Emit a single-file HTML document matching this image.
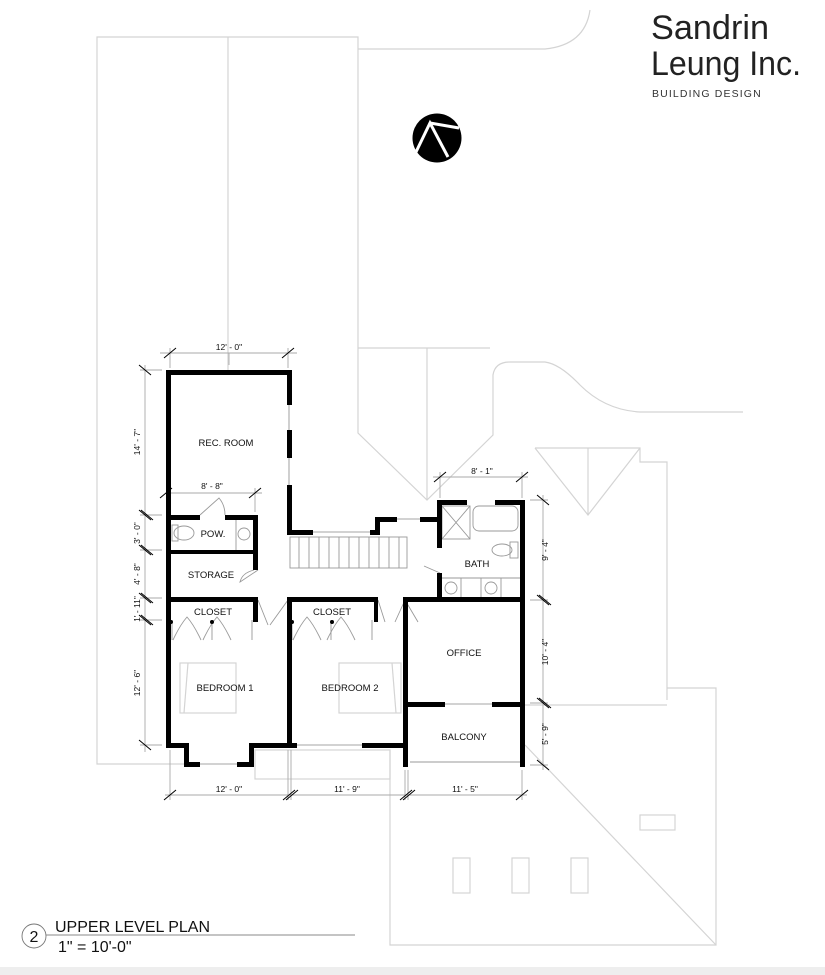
<!DOCTYPE html>
<html><head><meta charset="utf-8"><style>
html,body{margin:0;padding:0;background:#fff;}
svg{display:block;}
text{font-family:"Liberation Sans",Arial,sans-serif;}
</style></head><body>
<svg width="825" height="975" viewBox="0 0 825 975" xmlns="http://www.w3.org/2000/svg">
<rect x="0" y="0" width="825" height="975" fill="#fff"/>
<rect x="0" y="967" width="825" height="8" fill="#eeeeee"/>
<g fill="none" stroke="#d4d4d4" stroke-width="1.2">
<polyline points="185,764 97,764 97,37 358,37 358,433 427,500 493,435 493,380"/>
<line x1="228" y1="37" x2="228" y2="370"/>
<path d="M358,49 L545,49 Q585,45 590,10"/>
<polyline points="358,348 490,348"/>
<line x1="427" y1="348" x2="427" y2="500"/>
<path d="M493,380 L493,375 Q495,362 510,362 L545,362 Q560,364 580,385 Q605,410 640,412 L743,412"/>
<polyline points="535,448 640,448 640,462 667,462 667,700"/>
<polyline points="535,448 588,515 640,448"/>
<line x1="588" y1="448" x2="588" y2="515"/>
<line x1="520" y1="705" x2="667" y2="705"/>
<polyline points="667,688 716,688 716,945 390,945 390,750"/>
<line x1="525" y1="745" x2="716" y2="945"/>
<rect x="255" y="750" width="135" height="29"/>
<rect x="640" y="815" width="35" height="15"/>
<rect x="453" y="858" width="17" height="35"/>
<rect x="512" y="858" width="17" height="35"/>
<rect x="571" y="858" width="17" height="35"/>
<rect x="180" y="663" width="56" height="50"/>
<line x1="188" y1="663" x2="184" y2="713"/>
<rect x="339" y="663" width="62" height="50"/>
<line x1="392" y1="663" x2="396" y2="713"/>
</g>
<text x="651" y="39" font-size="34" fill="#222" textLength="118" lengthAdjust="spacingAndGlyphs">Sandrin</text>
<text x="651" y="75" font-size="34" fill="#222" textLength="150" lengthAdjust="spacingAndGlyphs">Leung Inc.</text>
<text x="652" y="97" font-size="10.5" fill="#333" letter-spacing="1.3" textLength="110">BUILDING DESIGN</text>
<circle cx="437" cy="138" r="24.5" fill="#000"/>
<polyline points="416,152 430,123 448,157" fill="none" stroke="#fff" stroke-width="3"/>
<line x1="430" y1="123" x2="459" y2="128" stroke="#fff" stroke-width="3"/>
<g stroke="#aaa" stroke-width="0.9" fill="none">
<line x1="160" y1="353" x2="297" y2="353"/>
<line x1="229" y1="353" x2="229" y2="365"/><line x1="170" y1="348" x2="170" y2="368"/><line x1="288" y1="348" x2="288" y2="368"/>
<line x1="166" y1="493" x2="262" y2="493"/><line x1="255" y1="488" x2="255" y2="512"/>
<line x1="433" y1="477" x2="528" y2="477"/><line x1="440" y1="472" x2="440" y2="498"/><line x1="522" y1="472" x2="522" y2="498"/>
<line x1="145" y1="365" x2="145" y2="752"/>
<line x1="140" y1="370" x2="162" y2="370"/><line x1="140" y1="515" x2="162" y2="515"/><line x1="140" y1="550" x2="162" y2="550"/><line x1="140" y1="598" x2="162" y2="598"/><line x1="140" y1="620" x2="162" y2="620"/><line x1="140" y1="745" x2="162" y2="745"/>
<line x1="543" y1="495" x2="543" y2="770"/>
<line x1="530" y1="500" x2="548" y2="500"/><line x1="530" y1="600" x2="548" y2="600"/><line x1="530" y1="703" x2="548" y2="703"/><line x1="530" y1="765" x2="548" y2="765"/>
<line x1="165" y1="795" x2="527" y2="795"/>
<line x1="170" y1="750" x2="170" y2="800"/><line x1="288" y1="750" x2="288" y2="800"/><line x1="291" y1="750" x2="291" y2="800"/><line x1="405" y1="770" x2="405" y2="800"/><line x1="408" y1="770" x2="408" y2="800"/><line x1="522" y1="770" x2="522" y2="800"/>
</g>
<g stroke="#000" stroke-width="1">
<line x1="164" y1="358" x2="176" y2="348"/><line x1="282" y1="358" x2="294" y2="348"/>
<line x1="160" y1="498" x2="172" y2="488"/><line x1="249" y1="498" x2="261" y2="488"/>
<line x1="434" y1="482" x2="446" y2="472"/><line x1="516" y1="482" x2="528" y2="472"/>
<line x1="139" y1="365" x2="151" y2="375"/><line x1="139" y1="740" x2="151" y2="750"/>
<line x1="139" y1="510" x2="151" y2="520"/><line x1="141" y1="510" x2="153" y2="520"/>
<line x1="139" y1="545" x2="151" y2="555"/><line x1="141" y1="545" x2="153" y2="555"/>
<line x1="139" y1="593" x2="151" y2="603"/><line x1="141" y1="593" x2="153" y2="603"/>
<line x1="139" y1="615" x2="151" y2="625"/><line x1="141" y1="615" x2="153" y2="625"/>
<line x1="537" y1="495" x2="549" y2="505"/>
<line x1="537" y1="595" x2="549" y2="605"/><line x1="539" y1="595" x2="551" y2="605"/>
<line x1="537" y1="698" x2="549" y2="708"/><line x1="539" y1="698" x2="551" y2="708"/>
<line x1="537" y1="760" x2="549" y2="770"/>
<line x1="164" y1="800" x2="176" y2="790"/>
<line x1="283" y1="800" x2="295" y2="790"/><line x1="286" y1="800" x2="298" y2="790"/>
<line x1="400" y1="800" x2="412" y2="790"/><line x1="403" y1="800" x2="415" y2="790"/>
<line x1="516" y1="800" x2="528" y2="790"/>
</g>
<g font-size="8.5" fill="#111" text-anchor="middle">
<text x="229" y="350">12' - 0"</text>
<text x="212" y="489">8' - 8"</text>
<text x="482" y="474">8' - 1"</text>
<text x="229" y="792">12' - 0"</text>
<text x="347" y="792">11' - 9"</text>
<text x="465" y="792">11' - 5"</text>
<text transform="translate(140,442) rotate(-90)">14' - 7"</text>
<text transform="translate(140,533) rotate(-90)">3' - 0"</text>
<text transform="translate(140,574) rotate(-90)">4' - 8"</text>
<text transform="translate(140,609) rotate(-90)">1' - 11"</text>
<text transform="translate(140,683) rotate(-90)">12' - 6"</text>
<text transform="translate(548,550) rotate(-90)">9' - 4"</text>
<text transform="translate(548,652) rotate(-90)">10' - 4"</text>
<text transform="translate(548,734) rotate(-90)">5' - 9"</text>
</g>
<g fill="none" stroke="#999" stroke-width="0.9">
<rect x="290" y="537" width="117" height="31"/>
<path d="M299,537v31M309,537v31M319,537v31M329,537v31M339,537v31M349,537v31M359,537v31M369,537v31M379,537v31M389,537v31M399,537v31"/>
<rect x="442" y="506" width="28" height="33"/><path d="M442,506 L470,539 M470,506 L442,539"/>
<rect x="473" y="506" width="45" height="25" rx="6"/>
<ellipse cx="502" cy="550" rx="10" ry="6"/><rect x="510" y="542" width="8" height="16"/>
<line x1="442" y1="578" x2="520" y2="578"/><line x1="461" y1="578" x2="461" y2="597"/><line x1="481" y1="578" x2="481" y2="597"/><line x1="501" y1="578" x2="501" y2="597"/>
<circle cx="451" cy="588" r="6"/><circle cx="491" cy="588" r="6"/>
<ellipse cx="184" cy="533" rx="10" ry="7"/><rect x="172" y="525" width="6" height="16"/>
<line x1="236" y1="520" x2="236" y2="550"/><circle cx="244" cy="534" r="6"/>
<path d="M200,515 L219,498 Q225,505 225,515"/>
<path d="M258,570 L240,582 Q242,573 254,570"/>
<path d="M258,600 L268,625 M288,600 L270,625 M378,600 L385,622 M405,600 L395,622 M405,600 L418,622 M440,573 L424,566"/>
<path d="M173,640 Q180,625 187,617 Q194,625 201,640 M203,640 Q210,625 217,617 Q224,625 231,640"/>
<path d="M293,640 Q300,625 307,617 Q314,625 321,640 M327,640 Q334,625 341,617 Q348,625 355,640"/>
<path d="M172,620v20M212,620v20M252,620v20M292,620v20M331,620v20M372,620v20"/>
<line x1="410" y1="762" x2="520" y2="762"/>
</g>
<g fill="#000">
<rect x="166" y="370" width="126" height="5"/>
<rect x="166" y="370" width="5" height="378"/>
<rect x="287" y="370" width="5" height="35"/><rect x="287" y="430" width="5" height="28"/><rect x="287" y="485" width="5" height="50"/>
<rect x="287" y="530" width="26" height="5"/><rect x="370" y="530" width="7" height="5"/>
<rect x="375" y="517" width="5" height="18"/>
<rect x="375" y="517" width="22" height="5"/><rect x="420" y="517" width="20" height="5"/>
<rect x="437" y="500" width="5" height="48"/><rect x="437" y="573" width="5" height="29"/>
<rect x="437" y="500" width="30" height="5"/><rect x="495" y="500" width="30" height="5"/>
<rect x="520" y="500" width="5" height="267"/>
<rect x="405" y="597" width="120" height="5"/>
<rect x="403" y="597" width="5" height="170"/>
<rect x="405" y="702" width="40" height="5"/><rect x="492" y="702" width="30" height="5"/>
<rect x="171" y="515" width="29" height="5"/><rect x="225" y="515" width="33" height="5"/>
<rect x="253" y="515" width="5" height="55"/>
<rect x="171" y="550" width="87" height="4"/>
<rect x="166" y="597" width="92" height="5"/>
<rect x="253" y="597" width="5" height="25"/>
<rect x="287" y="597" width="91" height="5"/>
<rect x="287" y="597" width="5" height="151"/>
<rect x="374" y="597" width="4" height="25"/>
<rect x="166" y="743" width="22" height="5"/>
<rect x="184" y="743" width="5" height="24"/>
<rect x="184" y="762" width="16" height="5"/><rect x="237" y="762" width="17" height="5"/>
<rect x="249" y="743" width="5" height="24"/>
<rect x="249" y="743" width="48" height="5"/><rect x="362" y="743" width="46" height="5"/>
<circle cx="171" cy="622" r="2"/><circle cx="212" cy="622" r="2"/><circle cx="292" cy="622" r="2"/><circle cx="332" cy="622" r="2"/>
</g>
<g fill="none" stroke="#888" stroke-width="0.8">
<line x1="200" y1="764" x2="237" y2="764"/><line x1="297" y1="745" x2="362" y2="745"/>
<line x1="445" y1="704" x2="492" y2="704"/><line x1="397" y1="519" x2="420" y2="519"/><line x1="313" y1="532" x2="370" y2="532"/>
<line x1="289" y1="405" x2="289" y2="430"/><line x1="289" y1="458" x2="289" y2="485"/>
</g>
<g font-size="9.5" fill="#111" text-anchor="middle">
<text x="226" y="446">REC. ROOM</text>
<text x="213" y="537">POW.</text>
<text x="211" y="578">STORAGE</text>
<text x="213" y="615">CLOSET</text>
<text x="332" y="615">CLOSET</text>
<text x="477" y="567">BATH</text>
<text x="464" y="656">OFFICE</text>
<text x="225" y="691">BEDROOM 1</text>
<text x="350" y="691">BEDROOM 2</text>
<text x="464" y="740">BALCONY</text>
</g>
<circle cx="34" cy="936" r="12" fill="none" stroke="#777" stroke-width="0.9"/>
<text x="34" y="942" font-size="16" text-anchor="middle" fill="#111">2</text>
<line x1="46" y1="935" x2="355" y2="935" stroke="#888" stroke-width="0.9"/>
<text x="55" y="932" font-size="16" fill="#111">UPPER LEVEL PLAN</text>
<text x="58" y="952" font-size="16" fill="#111">1" = 10'-0"</text>
</svg>
</body></html>
